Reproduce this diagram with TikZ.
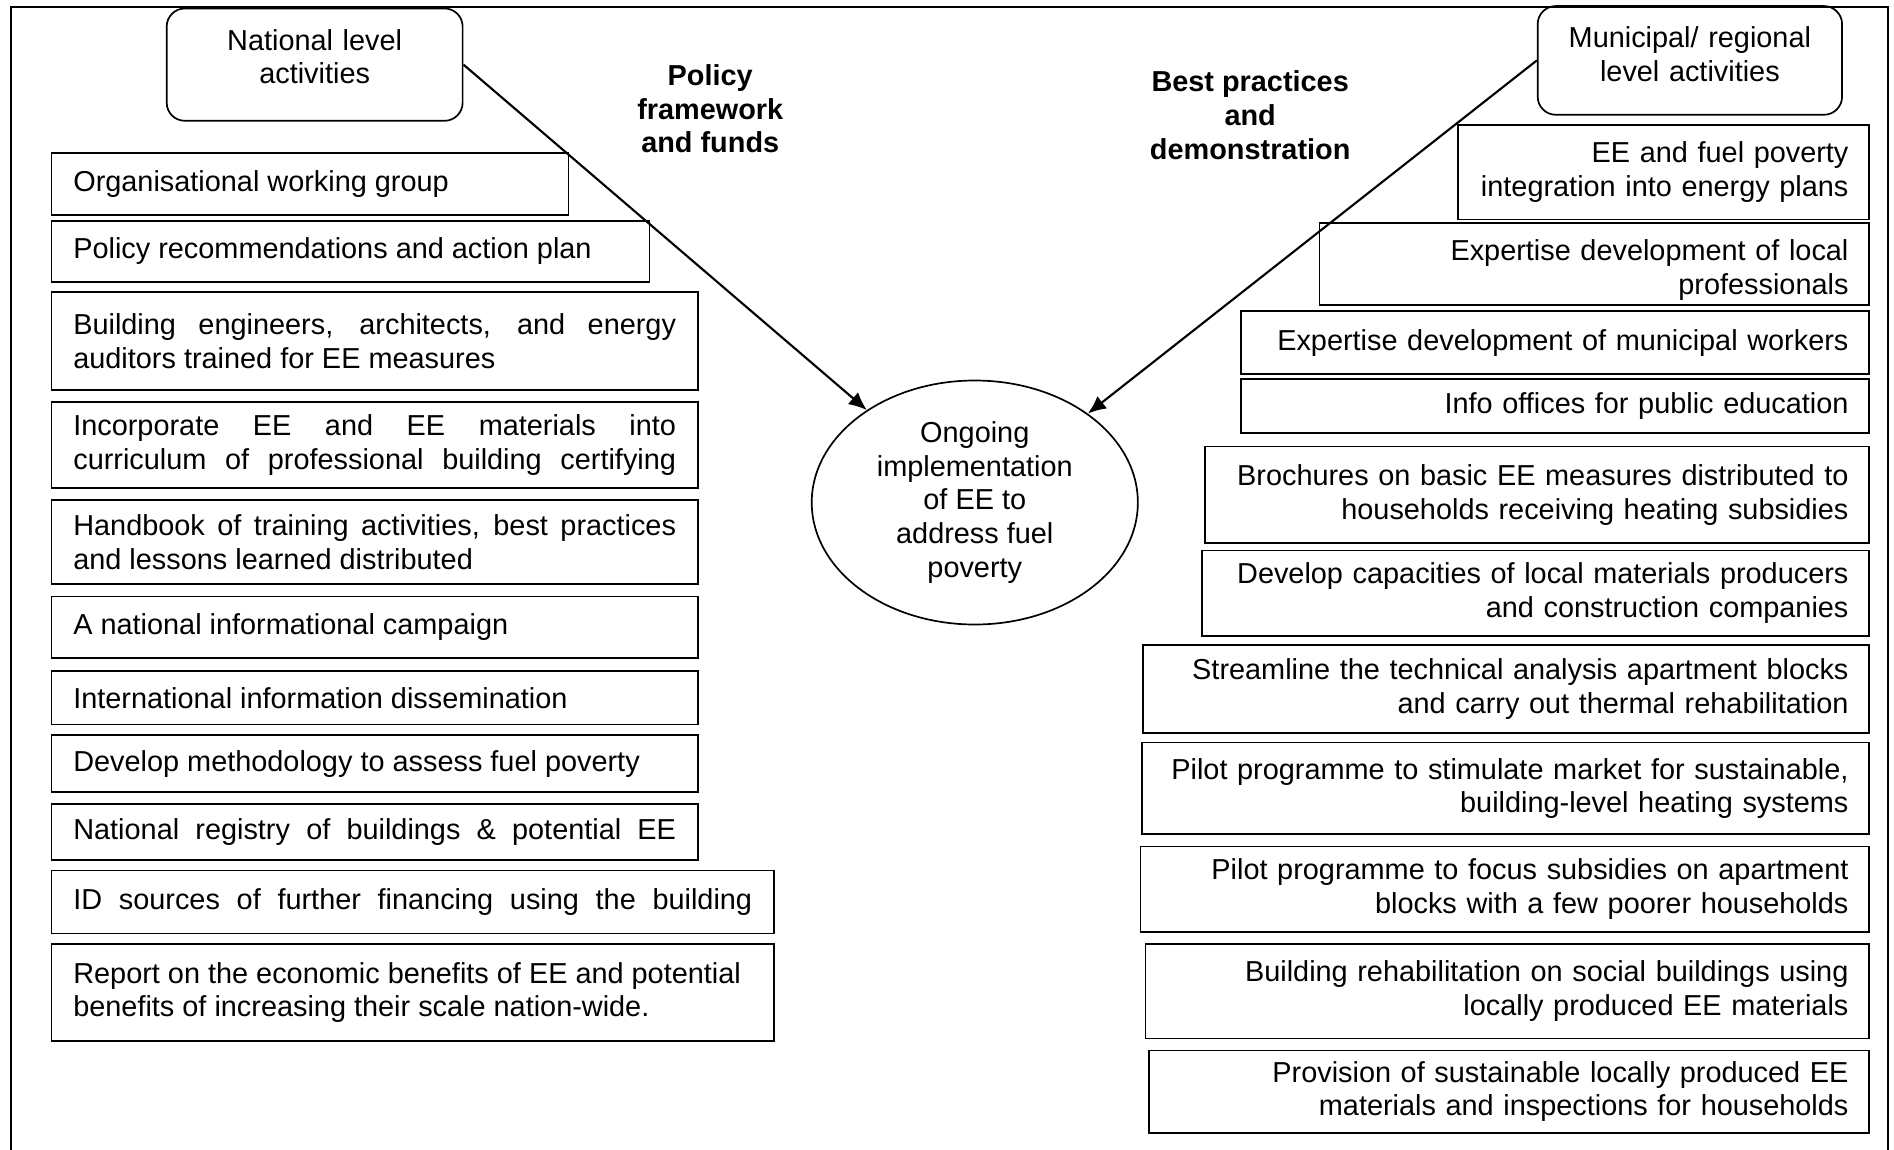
\documentclass[tikz,border=0pt]{standalone}
\usepackage{fontspec}
\setmainfont{Liberation Sans}
\usetikzlibrary{arrows.meta,shapes.geometric}
\hyphenpenalty=10000
\exhyphenpenalty=10000

\begin{document}
\begin{tikzpicture}[y=-1cm,
    font=\fontsize{13.6}{15.9}\selectfont,
    lbox/.style={draw, line width=0.8pt, anchor=north west, inner xsep=0.36cm, inner ysep=0pt, align=justify},
    rbox/.style={draw, line width=0.8pt, anchor=north east, inner xsep=0.34cm, inner ysep=0pt, align=right},
    roundbox/.style={draw, line width=0.8pt, rounded corners=0.3cm, align=center, inner xsep=0.3cm, inner ysep=0pt, text height=0.69cm},
    flowlabel/.style={align=center, font=\fontsize{13.6}{15.9}\selectfont\bfseries},
    flow/.style={-{Latex[length=3mm,width=2.6mm]}, line width=1pt}]
    \useasboundingbox (0,0) rectangle (31.36,19.04);

    % Draw the outer frame (open at the bottom)
    \draw[line width=0.8pt] (0.18,19.04) -- (0.18,0.11) -- (31.26,0.11) -- (31.26,19.04);

    % Top: the two levels and the flow labels
    \node[roundbox, text width=4.30cm, text depth=1.17cm] (nat) at (5.21,1.07) {National level\\activities};
    \node[roundbox, text width=4.44cm, text depth=1.11cm] (muni) at (27.98,1.00) {Municipal/ regional\\level activities};
    \node[flowlabel] (policy) at (11.76,1.80) {Policy\\framework\\and funds};
    \node[flowlabel] (best) at (20.70,1.91) {Best practices\\and\\demonstration};

    % Middle: the goal
    \node[ellipse, draw, line width=0.8pt, minimum width=5.40cm, minimum height=4.04cm, inner sep=0pt, align=center] (goal) at (16.14,8.32)
        {Ongoing\\implementation\\of EE to\\address fuel\\poverty};

    % Left column: national level
    \node[lbox, text width=7.84cm, minimum height=1.02cm] (l1) at (0.84,2.52) {Organisational working group};
    \node[lbox, text width=9.18cm, minimum height=1.02cm] (l2) at (0.84,3.64) {Policy recommendations and action plan};
    \node[lbox, text width=9.98cm, minimum height=1.62cm] (l3) at (0.84,4.82) {Building engineers, architects, and energy\linebreak auditors trained for EE measures};
    \node[lbox, text width=9.98cm, minimum height=1.42cm] (l4) at (0.84,6.64) {\parfillskip=0pt Incorporate EE and EE materials into\linebreak curriculum of professional building certifying\par};
    \node[lbox, text width=9.98cm, minimum height=1.40cm] (l5) at (0.84,8.26) {Handbook of training activities, best practices\linebreak and lessons learned distributed};
    \node[lbox, text width=9.98cm, minimum height=1.02cm] (l6) at (0.84,9.86) {A national informational campaign};
    \node[lbox, text width=9.98cm, minimum height=0.88cm] (l7) at (0.84,11.10) {International information dissemination};
    \node[lbox, text width=9.98cm, minimum height=0.94cm] (l8) at (0.84,12.16) {Develop methodology to assess fuel poverty};
    \node[lbox, text width=9.98cm, minimum height=0.92cm] (l9) at (0.84,13.30) {\parfillskip=0pt National registry of buildings \& potential EE\par};
    \node[lbox, text width=11.24cm, minimum height=1.04cm] (l10) at (0.84,14.40) {\parfillskip=0pt ID sources of further financing using the building\par};
    \node[lbox, text width=11.24cm, minimum height=1.60cm] (l11) at (0.84,15.62) {Report on the economic benefits of EE and potential\\benefits of increasing their scale nation-wide.};

    % Right column: municipal / regional level
    \node[rbox, text width=6.12cm, minimum height=1.56cm] (r1) at (30.96,2.06) {EE and fuel poverty\\integration into energy plans};
    \node[rbox, text width=8.42cm, text height=0.62cm, text depth=0.74cm] (r2) at (30.96,3.68) {Expertise development of local\\professionals};
    \node[rbox, text width=9.72cm, minimum height=1.04cm] (r3) at (30.96,5.14) {Expertise development of municipal workers};
    \node[rbox, text width=9.72cm, minimum height=0.90cm] (r4) at (30.96,6.26) {Info offices for public education};
    \node[rbox, text width=10.32cm, minimum height=1.60cm] (r5) at (30.96,7.38) {Brochures on basic EE measures distributed to\\households receiving heating subsidies};
    \node[rbox, text width=10.36cm, minimum height=1.42cm] (r6) at (30.96,9.10) {Develop capacities of local materials producers\\and construction companies};
    \node[rbox, text width=11.34cm, minimum height=1.46cm] (r7) at (30.96,10.66) {Streamline the technical analysis apartment blocks\\and carry out thermal rehabilitation};
    \node[rbox, text width=11.36cm, minimum height=1.52cm] (r8) at (30.96,12.28) {Pilot programme to stimulate market for sustainable,\\building-level heating systems};
    \node[rbox, text width=11.38cm, minimum height=1.42cm] (r9) at (30.96,14.00) {Pilot programme to focus subsidies on apartment\\blocks with a few poorer households};
    \node[rbox, text width=11.30cm, minimum height=1.56cm] (r10) at (30.96,15.62) {Building rehabilitation on social buildings using\\locally produced EE materials};
    \node[rbox, text width=11.24cm, minimum height=1.36cm] (r11) at (30.96,17.38) {Provision of sustainable locally produced EE\\materials and inspections for households};

    % Arrows into the goal
    \draw[flow] (nat.east) -- (goal);
    \draw[flow] (muni.west) -- (goal);
\end{tikzpicture}
\end{document}
